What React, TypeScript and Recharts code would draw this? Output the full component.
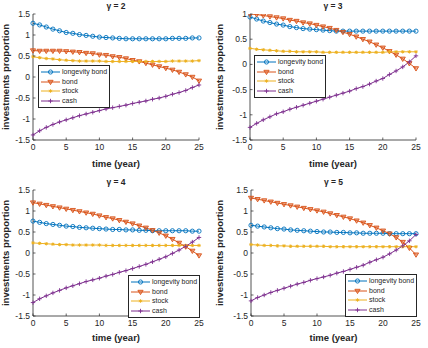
import React from 'react';
import { LineChart, Line, XAxis, YAxis, Legend } from 'recharts';

const years = [0, 1, 2, 3, 4, 5, 6, 7, 8, 9, 10, 11, 12, 13, 14, 15, 16, 17, 18, 19, 20, 21, 22, 23, 24, 25];
const xTicks = [0, 5, 10, 15, 20, 25];

// gamma = 2
const lb2 = [1.28, 1.24, 1.19, 1.14, 1.1, 1.06, 1.04, 1.01, 0.99, 0.97, 0.95, 0.94, 0.93, 0.92, 0.91, 0.91, 0.91, 0.91, 0.91, 0.91, 0.91, 0.92, 0.92, 0.92, 0.93, 0.93];
const bond2 = [0.63, 0.62, 0.62, 0.62, 0.62, 0.61, 0.6, 0.59, 0.57, 0.56, 0.53, 0.52, 0.49, 0.47, 0.44, 0.4, 0.37, 0.33, 0.29, 0.25, 0.21, 0.17, 0.12, 0.06, 0.0, -0.09];
const stock2 = [0.48, 0.46, 0.44, 0.43, 0.41, 0.4, 0.39, 0.38, 0.38, 0.38, 0.38, 0.37, 0.37, 0.37, 0.37, 0.37, 0.37, 0.37, 0.37, 0.37, 0.37, 0.38, 0.38, 0.38, 0.38, 0.39];
const cash2 = [-1.38, -1.28, -1.2, -1.13, -1.07, -1.02, -0.97, -0.92, -0.88, -0.84, -0.8, -0.76, -0.73, -0.7, -0.67, -0.63, -0.6, -0.57, -0.53, -0.5, -0.46, -0.41, -0.37, -0.32, -0.25, -0.19];

// gamma = 3
const lb3 = [0.94, 0.9, 0.86, 0.83, 0.8, 0.78, 0.75, 0.73, 0.71, 0.7, 0.69, 0.68, 0.67, 0.66, 0.66, 0.66, 0.66, 0.66, 0.66, 0.66, 0.66, 0.66, 0.66, 0.66, 0.66, 0.66];
const bond3 = [1.0, 0.99, 0.97, 0.95, 0.93, 0.91, 0.88, 0.86, 0.83, 0.81, 0.78, 0.75, 0.72, 0.68, 0.64, 0.6, 0.55, 0.5, 0.45, 0.39, 0.33, 0.26, 0.19, 0.11, 0.02, -0.08];
const stock3 = [0.32, 0.3, 0.29, 0.28, 0.27, 0.26, 0.26, 0.25, 0.25, 0.25, 0.25, 0.24, 0.24, 0.24, 0.24, 0.24, 0.24, 0.24, 0.24, 0.24, 0.24, 0.25, 0.25, 0.25, 0.25, 0.25];
const cash3 = [-1.25, -1.17, -1.1, -1.04, -0.98, -0.94, -0.89, -0.85, -0.81, -0.77, -0.73, -0.69, -0.65, -0.61, -0.57, -0.53, -0.48, -0.44, -0.39, -0.33, -0.28, -0.2, -0.13, -0.05, 0.05, 0.17];

// gamma = 4
const lb4 = [0.76, 0.73, 0.7, 0.68, 0.66, 0.64, 0.63, 0.61, 0.6, 0.59, 0.58, 0.57, 0.56, 0.56, 0.55, 0.55, 0.54, 0.54, 0.53, 0.53, 0.53, 0.53, 0.53, 0.53, 0.52, 0.52];
const bond4 = [1.2, 1.17, 1.14, 1.11, 1.08, 1.05, 1.02, 0.99, 0.96, 0.93, 0.89, 0.85, 0.82, 0.78, 0.74, 0.7, 0.65, 0.6, 0.54, 0.48, 0.41, 0.33, 0.24, 0.15, 0.05, -0.06];
const stock4 = [0.24, 0.23, 0.22, 0.21, 0.2, 0.2, 0.19, 0.19, 0.19, 0.19, 0.19, 0.18, 0.18, 0.18, 0.18, 0.18, 0.18, 0.18, 0.18, 0.18, 0.18, 0.18, 0.18, 0.18, 0.18, 0.18];
const cash4 = [-1.18, -1.09, -1.02, -0.95, -0.89, -0.83, -0.78, -0.73, -0.68, -0.64, -0.6, -0.55, -0.51, -0.46, -0.42, -0.37, -0.32, -0.27, -0.21, -0.15, -0.09, -0.01, 0.07, 0.16, 0.26, 0.37];

// gamma = 5
const lb5 = [0.66, 0.64, 0.62, 0.6, 0.58, 0.57, 0.55, 0.54, 0.53, 0.52, 0.51, 0.5, 0.5, 0.49, 0.49, 0.48, 0.48, 0.47, 0.47, 0.47, 0.47, 0.46, 0.46, 0.46, 0.46, 0.46];
const bond5 = [1.31, 1.28, 1.25, 1.22, 1.19, 1.16, 1.13, 1.1, 1.07, 1.04, 1.01, 0.98, 0.94, 0.9, 0.86, 0.82, 0.77, 0.72, 0.66, 0.6, 0.53, 0.46, 0.37, 0.26, 0.12, -0.04];
const stock5 = [0.2, 0.19, 0.18, 0.18, 0.17, 0.17, 0.16, 0.16, 0.16, 0.16, 0.16, 0.16, 0.15, 0.15, 0.15, 0.15, 0.15, 0.15, 0.15, 0.15, 0.15, 0.15, 0.15, 0.15, 0.15, 0.15];
const cash5 = [-1.14, -1.06, -1.0, -0.94, -0.89, -0.84, -0.79, -0.74, -0.7, -0.65, -0.61, -0.57, -0.53, -0.48, -0.44, -0.39, -0.34, -0.29, -0.22, -0.16, -0.1, -0.02, 0.07, 0.17, 0.29, 0.44];

const AXIS = '#262626';
const FONT = '"Liberation Sans", Arial, Helvetica, sans-serif';
const TM = 4; // tick label margin
const TL = 2.5; // tick length (inward)

const SERIES = [
    { key: 'lb', name: 'longevity bond', color: '#0072BD', marker: 'o' },
    { key: 'bond', name: 'bond', color: '#D95319', marker: 'v' },
    { key: 'stock', name: 'stock', color: '#EDB120', marker: '*' },
    { key: 'cash', name: 'cash', color: '#7E2F8E', marker: '+' },
];

const Marker = ({ cx, cy, type, color }: any) => {
    if (cx == null || cy == null) return null;
    const sw = 0.9;
    if (type === 'o') {
        return <circle cx={cx} cy={cy} r={2.1} fill="none" stroke={color} strokeWidth={sw} />;
    }
    if (type === 'v') {
        return (
            <path
                d={`M${cx - 2.6},${cy - 1.7} L${cx + 2.6},${cy - 1.7} L${cx},${cy + 2.6} Z`}
                fill={color}
                fillOpacity={0.45}
                stroke={color}
                strokeWidth={sw}
            />
        );
    }
    if (type === '*') {
        const r = 1.7;
        const d = 1.2;
        return (
            <path
                d={`M${cx - r},${cy} L${cx + r},${cy} M${cx},${cy - r} L${cx},${cy + r} M${cx - d},${cy - d} L${cx + d},${cy + d} M${cx - d},${cy + d} L${cx + d},${cy - d}`}
                stroke={color}
                strokeWidth={1}
            />
        );
    }
    const r = 2.2;
    return <path d={`M${cx - r},${cy} L${cx + r},${cy} M${cx},${cy - r} L${cx},${cy + r}`} stroke={color} strokeWidth={sw} />;
};

const BottomTick = (p: any) => (
    <g>
        <line x1={p.x} x2={p.x} y1={p.y - TM} y2={p.y - TM - TL} stroke={AXIS} strokeWidth={0.7} />
        <text x={p.x} y={p.y} dy="0.71em" textAnchor="middle" fontSize={8.5} fill={AXIS} fontFamily={FONT}>
            {p.payload.value}
        </text>
    </g>
);

const LeftTick = (p: any) => (
    <g>
        <line x1={p.x + 3} x2={p.x + 3 + TL} y1={p.y} y2={p.y} stroke={AXIS} strokeWidth={0.7} />
        <text x={p.x} y={p.y} dy="0.35em" textAnchor="end" fontSize={8.5} fill={AXIS} fontFamily={FONT}>
            {p.payload.value}
        </text>
    </g>
);

const TopTick = (p: any) => <line x1={p.x} x2={p.x} y1={p.y} y2={p.y + TL} stroke={AXIS} strokeWidth={0.7} />;
const RightTick = (p: any) => <line x1={p.x} x2={p.x - TL} y1={p.y} y2={p.y} stroke={AXIS} strokeWidth={0.7} />;

const renderLegend = () => (
    <div
        style={{
            display: 'inline-block',
            background: '#fff',
            border: `0.8px solid ${AXIS}`,
            padding: '1px 2px 1px 0',
            fontFamily: FONT,
            fontSize: 7,
            color: AXIS,
        }}
    >
        {SERIES.map((s) => (
            <div key={s.key} style={{ display: 'flex', alignItems: 'center', height: 9.7, lineHeight: '9.7px' }}>
                <svg width={23} height={8} style={{ display: 'block', flex: 'none' }}>
                    <line x1={2} x2={21} y1={4} y2={4} stroke={s.color} strokeWidth={1} />
                    <Marker cx={11.5} cy={4} type={s.marker} color={s.color} />
                </svg>
                <span style={{ whiteSpace: 'nowrap' }}>{s.name}</span>
            </div>
        ))}
    </div>
);

const panels = [
    { gamma: 2, lb: lb2, bond: bond2, stock: stock2, cash: cash2, yDomain: [-1.5, 1.5], yTicks: [-1.5, -1, -0.5, 0, 0.5, 1, 1.5], left: 0, top: 0, yw: 33, mt: 14, mr: 15, xh: 34, legend: { left: 38, top: 65 } },
    { gamma: 3, lb: lb3, bond: bond3, stock: stock3, cash: cash3, yDomain: [-1.5, 1], yTicks: [-1.5, -1, -0.5, 0, 0.5, 1], left: 214, top: 0, yw: 36, mt: 14, mr: 12, xh: 34, legend: { left: 40, top: 55 } },
    { gamma: 4, lb: lb4, bond: bond4, stock: stock4, cash: cash4, yDomain: [-1.5, 1.5], yTicks: [-1.5, -1, -0.5, 0, 0.5, 1, 1.5], left: 0, top: 174, yw: 33, mt: 16, mr: 15, xh: 32, legend: { left: 128, top: 101 } },
    { gamma: 5, lb: lb5, bond: bond5, stock: stock5, cash: cash5, yDomain: [-1.5, 1.5], yTicks: [-1.5, -1, -0.5, 0, 0.5, 1, 1.5], left: 214, top: 174, yw: 37, mt: 16, mr: 12, xh: 32, legend: { left: 131, top: 100 } },
];

const Panel = ({ p }: any) => {
    const data = years.map((t, i) => ({ t, lb: p.lb[i], bond: p.bond[i], stock: p.stock[i], cash: p.cash[i] }));
    const plotCenter = p.yw + (214 - p.yw - p.mr) / 2;
    return (
        <div style={{ position: 'absolute', left: p.left, top: p.top, width: 214, height: 174 }}>
            <div
                style={{
                    position: 'absolute',
                    left: plotCenter - 30,
                    width: 60,
                    top: p.mt - 13,
                    textAlign: 'center',
                    fontSize: 8.5,
                    fontWeight: 'bold',
                    color: AXIS,
                    lineHeight: '10px',
                    fontFamily: FONT,
                }}
            >
                γ = {p.gamma}
            </div>
            <LineChart width={214} height={174} data={data} margin={{ top: p.mt, right: p.mr, left: 0, bottom: 0 }}>
                <XAxis
                    xAxisId="b"
                    dataKey="t"
                    type="number"
                    domain={[0, 25]}
                    ticks={xTicks}
                    interval={0}
                    height={p.xh}
                    tickSize={0}
                    tickMargin={TM}
                    tick={BottomTick}
                    axisLine={{ stroke: AXIS, strokeWidth: 0.8 }}
                    label={{ value: 'time (year)', position: 'insideBottom', offset: 7, fontSize: 9.5, fontWeight: 'bold', fill: AXIS, fontFamily: FONT }}
                />
                <XAxis
                    xAxisId="t"
                    orientation="top"
                    dataKey="t"
                    type="number"
                    domain={[0, 25]}
                    ticks={xTicks}
                    interval={0}
                    height={0}
                    tickSize={0}
                    tickMargin={0}
                    tick={TopTick}
                    axisLine={{ stroke: AXIS, strokeWidth: 0.8 }}
                    allowDataOverflow
                />
                <YAxis
                    yAxisId="l"
                    type="number"
                    domain={p.yDomain}
                    ticks={p.yTicks}
                    interval={0}
                    width={p.yw}
                    tickSize={0}
                    tickMargin={3}
                    tick={LeftTick}
                    axisLine={{ stroke: AXIS, strokeWidth: 0.8 }}
                    allowDataOverflow
                    label={{ value: 'investments proportion', angle: -90, position: 'insideLeft', offset: 6, fontSize: 9.5, fontWeight: 'bold', fill: AXIS, fontFamily: FONT, style: { textAnchor: 'middle' } }}
                />
                <YAxis
                    yAxisId="r"
                    orientation="right"
                    type="number"
                    domain={p.yDomain}
                    ticks={p.yTicks}
                    interval={0}
                    width={0}
                    tickSize={0}
                    tickMargin={0}
                    tick={RightTick}
                    axisLine={{ stroke: AXIS, strokeWidth: 0.8 }}
                    allowDataOverflow
                />
                {SERIES.map((s) => (
                    <Line
                        key={s.key}
                        xAxisId="b"
                        yAxisId="l"
                        type="linear"
                        dataKey={s.key}
                        name={s.name}
                        stroke={s.color}
                        strokeWidth={1}
                        isAnimationActive={false}
                        dot={(d: any) => <Marker key={`${s.key}-${d.index}`} cx={d.cx} cy={d.cy} type={s.marker} color={s.color} />}
                        activeDot={false}
                    />
                ))}
                <Legend
                    layout="vertical"
                    align="center"
                    verticalAlign="middle"
                    content={renderLegend}
                    wrapperStyle={{ left: p.legend.left, top: p.legend.top, width: 'auto', height: 'auto', lineHeight: 0 }}
                />
            </LineChart>
        </div>
    );
};

export default function App() {
    return (
        <div style={{ position: 'absolute', left: 0, top: 0, width: 428, height: 348, background: '#fff', fontFamily: FONT }}>
            {panels.map((p) => (
                <Panel key={p.gamma} p={p} />
            ))}
        </div>
    );
}
